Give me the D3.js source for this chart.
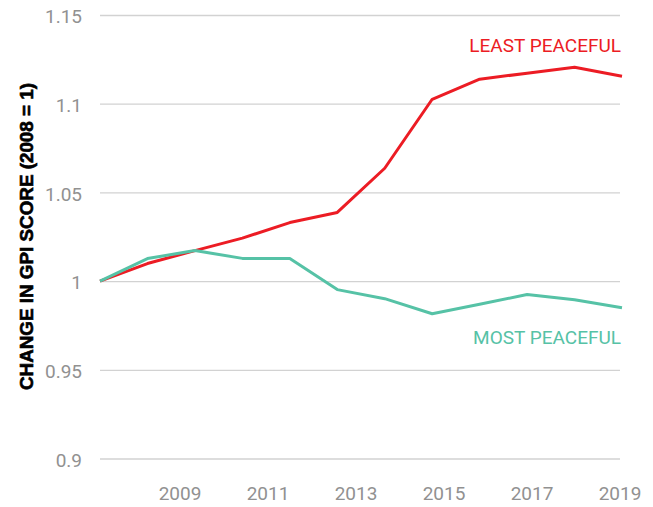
<!DOCTYPE html>
<html>
<head>
<meta charset="utf-8">
<script src="https://cdn.jsdelivr.net/npm/d3@7"></script>
<style>
  html, body { margin: 0; padding: 0; background: #fff; }
  svg { display: block; }
</style>
</head>
<body>
<svg id="chart" width="653" height="507"></svg>
<script>
const years = [2008, 2009, 2010, 2011, 2012, 2013, 2014, 2015, 2016, 2017, 2018, 2019];
const leastPeaceful = [1.0, 1.0099, 1.0172, 1.0242, 1.0330, 1.0387, 1.0636, 1.1025, 1.1138, 1.1172, 1.1206, 1.1155];
const mostPeaceful  = [1.0, 1.0127, 1.0172, 1.0128, 1.0127, 0.9952, 0.9901, 0.9816, 0.9870, 0.9924, 0.9895, 0.9850];
const yTicks = [0.9, 0.95, 1, 1.05, 1.1, 1.15];
const yTickLabels = ["0.9", "0.95", "1", "1.05", "1.1", "1.15"];
const xTickYears = [2009, 2011, 2013, 2015, 2017, 2019];
const seriesNames = ["LEAST PEACEFUL", "MOST PEACEFUL"];
const yTitle = "CHANGE IN GPI SCORE (2008 = 1)";

const RED = "#ec1c24";
const GREEN = "#56c2a6";
const GREY = "#919191";

const svg = d3.select("#chart");

const x = d3.scaleLinear().domain([2008, 2019]).range([100, 622]);
const xLabel = d3.scaleLinear().domain([2009, 2019]).range([179.5, 619.5]);
const y = d3.scaleLinear().domain([0.9, 1.15]).range([458.5, 15]);

// Gridlines + y tick labels
const yAxis = d3.axisLeft(y)
  .tickValues(yTicks)
  .tickFormat((d, i) => yTickLabels[i])
  .tickSize(-520)
  .tickPadding(18);

const gy = svg.append("g").attr("transform", "translate(100,0)").call(yAxis);
gy.select(".domain").remove();
gy.selectAll(".tick line").attr("stroke", "#d2d2d2").attr("stroke-width", 1.3);
gy.selectAll(".tick text")
  .attr("fill", GREY)
  .attr("font-family", "Roboto, sans-serif")
  .attr("font-size", 19)
  .attr("dy", "0.4em");

// X tick labels
const xAxis = d3.axisBottom(xLabel)
  .tickValues(xTickYears)
  .tickFormat(d3.format("d"))
  .tickSize(0)
  .tickPadding(28);
const gx = svg.append("g").attr("transform", "translate(0,458.5)").call(xAxis);
gx.select(".domain").remove();
gx.selectAll(".tick text")
  .attr("fill", GREY)
  .attr("font-family", "Roboto, sans-serif")
  .attr("font-size", 19);

// Lines
const line = d3.line()
  .x((d, i) => x(years[i]))
  .y(d => y(d));

svg.append("path")
  .datum(leastPeaceful)
  .attr("d", line)
  .attr("fill", "none")
  .attr("stroke", RED)
  .attr("stroke-width", 3)
  .attr("stroke-linejoin", "round");

svg.append("path")
  .datum(mostPeaceful)
  .attr("d", line)
  .attr("fill", "none")
  .attr("stroke", GREEN)
  .attr("stroke-width", 3)
  .attr("stroke-linejoin", "round");

// Series labels
svg.append("text")
  .attr("x", 621).attr("y", 52)
  .attr("text-anchor", "end")
  .attr("fill", RED)
  .attr("font-family", "Roboto, sans-serif")
  .attr("font-size", 19)
  .text(seriesNames[0]);

svg.append("text")
  .attr("x", 621).attr("y", 344)
  .attr("text-anchor", "end")
  .attr("fill", GREEN)
  .attr("font-family", "Roboto, sans-serif")
  .attr("font-size", 19)
  .text(seriesNames[1]);

// Y axis title
svg.append("text")
  .attr("transform", "translate(33,236.5) rotate(-90)")
  .attr("text-anchor", "middle")
  .attr("fill", "#000")
  .attr("stroke", "#000")
  .attr("stroke-width", 0.6)
  .attr("font-family", "'Liberation Sans', Arial, sans-serif")
  .attr("font-weight", "bold")
  .attr("font-size", 18)
  .attr("textLength", 307)
  .attr("lengthAdjust", "spacingAndGlyphs")
  .text(yTitle);
</script>
</body>
</html>
